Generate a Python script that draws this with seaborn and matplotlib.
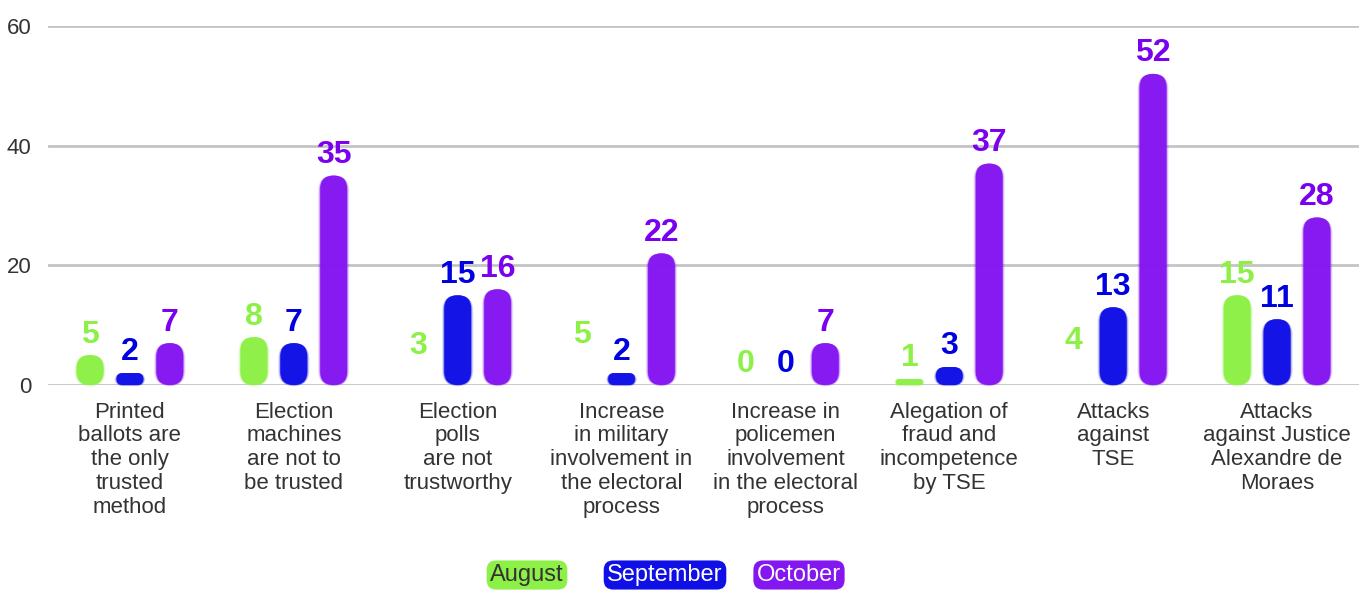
import pandas as pd
import seaborn as sns
import matplotlib.pyplot as plt
from matplotlib.patches import FancyBboxPatch

topics = [
    'Printed\nballots are\nthe only\ntrusted\nmethod',
    'Election\nmachines\nare not to\nbe trusted',
    'Election\npolls\nare not\ntrustworthy',
    'Increase\nin military\ninvolvement in\nthe electoral\nprocess',
    'Increase in\npolicemen\ninvolvement\nin the electoral\nprocess',
    'Alegation of\nfraud and\nincompetence\nby TSE',
    'Attacks\nagainst\nTSE',
    'Attacks\nagainst Justice\nAlexandre de\nMoraes',
]
months = ['August', 'September', 'October']
august = [5, 8, 3, 5, 0, 1, 4, 15]
september = [2, 7, 15, 2, 0, 3, 13, 11]
october = [7, 35, 16, 22, 7, 37, 52, 28]
# in the original some August bars are labelled but not drawn
august_drawn = [True, True, False, False, True, True, False, True]

bar_colors = ['#8cf046', '#1010e6', '#8416f0']
text_colors = ['#8cf046', '#0000e0', '#7a00ee']

rows = []
for m, vals in zip(months, [august, september, october]):
    for t, v in zip(topics, vals):
        rows.append({'topic': t, 'month': m, 'count': v})
df = pd.DataFrame(rows)

sns.set_style('white')
plt.rcParams['font.family'] = ['Liberation Sans', 'DejaVu Sans']

fig = plt.figure(figsize=(13.59, 5.9), dpi=100)
ax = fig.add_axes([48 / 1359, 1 - 385 / 590, 1 - 48 / 1359, (385 - 26) / 590])

sns.barplot(data=df, x='topic', y='count', hue='month', palette=bar_colors,
            width=0.73, gap=0.33, dodge=True, legend=False, ax=ax)
ax.set_xlim(-0.5, len(topics) - 0.5)
ax.set_ylim(0, 60)
ax.set_yticks([0, 20, 40, 60])

for y in [0, 20, 40, 60]:
    ax.axhline(y, color='#c4c4c4', lw=2, zorder=0)

fig.canvas.draw()
p0 = ax.transData.transform((0, 0))
p1 = ax.transData.transform((1, 1))
aspect = (p1[0] - p0[0]) / (p1[1] - p0[1])

drawn = [august_drawn, [True] * 8, [True] * 8]
for mi, cont in enumerate(ax.containers):
    for bi, bar in enumerate(cont):
        x, w, h = bar.get_x(), bar.get_width(), bar.get_height()
        bar.set_visible(False)
        val = [august, september, october][mi][bi]
        if drawn[mi][bi] and h > 0:
            r = min(w / 2, h / aspect / 2)
            for grow, alpha in [(0.014, 0.12), (0.008, 0.25), (0.003, 0.5), (0.0, 0.95)]:
                p = FancyBboxPatch((x - grow, -grow * aspect * 0.5), w + 2 * grow,
                                   h + grow * aspect * 0.5,
                                   boxstyle=f'round,pad=0,rounding_size={r + grow}',
                                   mutation_aspect=aspect, fc=bar_colors[mi],
                                   ec='none', alpha=alpha, zorder=2, clip_on=False)
                ax.add_patch(p)
        ax.annotate(str(val), (x + w / 2, h), xytext=(0, 4), textcoords='offset points',
                    ha='center', va='bottom', fontsize=23, fontweight='bold',
                    color=text_colors[mi], zorder=3)

sns.despine(ax=ax, left=True, bottom=True)
ax.set_xlabel('')
ax.set_ylabel('')
ax.tick_params(axis='both', length=0, labelcolor='#333333')
ax.tick_params(axis='y', pad=12, labelsize=16)
ax.tick_params(axis='x', pad=12, labelsize=16)
for lab in ax.get_xticklabels():
    lab.set_linespacing(1.17)
    lab.set_va('top')

legend_pos = [527, 665, 799]
legend_text = ['#333333', 'white', 'white']
for m, xpix, c, tc in zip(months, legend_pos, bar_colors, legend_text):
    fig.text(xpix / 1359, 1 - 575 / 590, m, ha='center', va='center', fontsize=17,
             color=tc, bbox=dict(boxstyle='round,pad=0.15,rounding_size=0.4', fc=c, ec='none'))

fig.savefig('out.png', dpi=100)
